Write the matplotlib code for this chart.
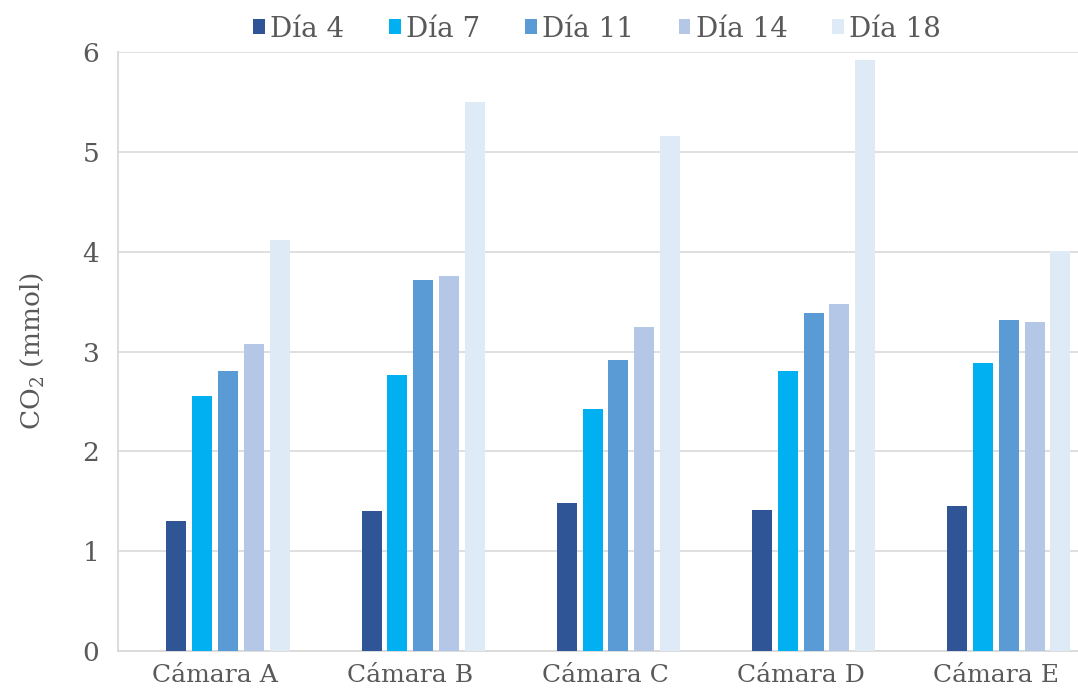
import matplotlib
matplotlib.use("Agg")
import matplotlib.pyplot as plt
import numpy as np

plt.rcParams['font.family'] = ['DejaVu Serif']
plt.rcParams['mathtext.fontset'] = 'dejavuserif'

camaras = ["Cámara A", "Cámara B", "Cámara C", "Cámara D", "Cámara E"]
series_names = ["Día 4", "Día 7", "Día 11", "Día 14", "Día 18"]
dia4 = [1.30, 1.40, 1.48, 1.41, 1.45]
dia7 = [2.55, 2.76, 2.42, 2.80, 2.88]
dia11 = [2.80, 3.72, 2.91, 3.39, 3.32]
dia14 = [3.08, 3.76, 3.25, 3.48, 3.30]
dia18 = [4.12, 5.50, 5.16, 5.92, 4.01]
colors = ["#2F5597", "#00B0F0", "#5B9BD5", "#B4C7E7", "#DEEBF7"]

series = [dia4, dia7, dia11, dia14, dia18]

fig = plt.figure(figsize=(10.78, 6.92), dpi=100)
ax = fig.add_axes([0.109, 0.0592, 0.9054, 0.8657])

x = np.arange(len(camaras))
pitch = 0.132
width = 0.1026
for j, (vals, name, c) in enumerate(zip(series, series_names, colors)):
    ax.bar(x + (j - 1.5) * pitch, vals, width, color=c, label=name, zorder=3)

ax.set_xlim(-0.5, 4.5)
ax.set_ylim(0, 6)
ax.set_yticks(range(0, 7))
ax.set_xticks(x)
ax.set_xticklabels(camaras)

grid_c = "#D9D9D9"
ax.yaxis.grid(True, color=grid_c, linewidth=1.2, zorder=0)
for s in ["top", "right"]:
    ax.spines[s].set_visible(False)
ax.spines["left"].set_color(grid_c)
ax.spines["left"].set_linewidth(1.3)
ax.spines["bottom"].set_color(grid_c)
ax.spines["bottom"].set_linewidth(1.3)

text_c = "#595959"
ax.tick_params(axis="both", length=0, colors=text_c, labelsize=19)
ax.tick_params(axis="x", labelsize=18, pad=9)
ax.tick_params(axis="y", pad=13)
ax.set_ylabel(r"CO$_2$ (mmol)", color=text_c, fontsize=19, labelpad=26)

leg = fig.legend(loc="center", bbox_to_anchor=(0.554, 0.958), ncol=5, frameon=False,
                 fontsize=20, handlelength=0.42, handleheight=0.42, handletextpad=0.2,
                 columnspacing=1.6)
for t in leg.get_texts():
    t.set_color(text_c)

fig.savefig("out.png", dpi=100)
